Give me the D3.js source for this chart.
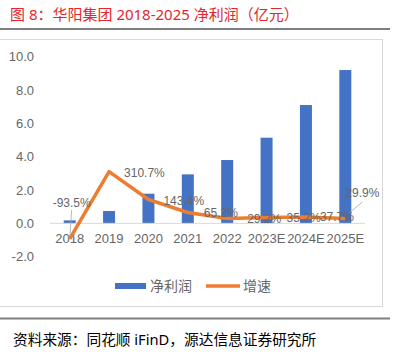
<!DOCTYPE html>
<html><head><meta charset="utf-8">
<script src="https://cdn.jsdelivr.net/npm/d3@7/dist/d3.min.js"></script>
<style>body{margin:0;background:#fff}svg{display:block}text{font-family:"Liberation Sans","Noto Sans CJK SC",sans-serif}</style>
</head><body>
<script>
const categories = ["2018","2019","2020","2021","2022","2023E","2024E","2025E"];
const netProfit = [0.18,0.74,1.78,2.94,3.80,5.14,7.10,9.20];
const growth = [-93.5,310.7,143.4,65.2,29.2,35.2,37.7,29.9];
const growthLabels = ["-93.5%","310.7%","143.4%","65.2%","29.2%","35.2%","37.7%","29.9%"];
const yTicks = [-2,0,2,4,6,8,10];

const W=394,H=352;
const svg=d3.select("body").append("svg").attr("width",W).attr("height",H);

// title
svg.append("text").attr("x",10).attr("y",20).attr("fill","#e4262c")
  .style("font-family",'"Noto Sans","Noto Sans CJK SC",sans-serif').style("font-size","15px")
  .text("图 8：华阳集团 2018-2025 净利润（亿元）");
svg.append("rect").attr("x",0).attr("y",28).attr("width",390).attr("height",2).attr("fill","#7f7f7f");
// chart border
svg.append("rect").attr("x",-1).attr("y",39.5).attr("width",383.5).attr("height",267).attr("fill","none").attr("stroke","#d9d9d9");
svg.append("rect").attr("x",0).attr("y",317.5).attr("width",390).attr("height",2).attr("fill","#7f7f7f");
svg.append("text").attr("x",13).attr("y",345).attr("fill","#000")
  .style("font-family",'"Noto Sans","Noto Sans CJK SC",sans-serif').style("font-size","14.7px")
  .text("资料来源：同花顺 iFinD，源达信息证券研究所");

const x=d3.scaleBand().domain(categories).range([50,365]);
const y=d3.scaleLinear().domain([-2,10]).range([256.7,56.7]);

// y labels
svg.append("g").selectAll("text").data(yTicks).join("text")
  .attr("x",34).attr("y",d=>y(d)).attr("dy","0.35em").attr("text-anchor","end")
  .attr("fill","#666").style("font-size","13px").text(d=>d.toFixed(1));

// bars
const bw=12;
svg.append("g").selectAll("rect").data(netProfit).join("rect")
  .attr("x",(d,i)=>x(categories[i])+x.bandwidth()/2-bw/2).attr("width",bw)
  .attr("y",d=>y(d)).attr("height",d=>y(0)-y(d)).attr("fill","#4472c4");

// zero line
svg.append("line").attr("x1",50).attr("x2",365).attr("y1",y(0)).attr("y2",y(0)).attr("stroke","#d9d9d9").attr("stroke-width",1);

// category labels
svg.append("g").selectAll("text").data(categories).join("text")
  .attr("x",d=>x(d)+x.bandwidth()/2).attr("y",238.5).attr("dy","0.35em").attr("text-anchor","middle")
  .attr("fill","#666").style("font-size","13px").text(d=>d);

// leader lines
const cx=i=>x(categories[i])+x.bandwidth()/2;
svg.append("line").attr("x1",cx(0)+2).attr("y1",210).attr("x2",cx(0)).attr("y2",y(growth[0]/100)).attr("stroke","#a6a6a6").attr("stroke-width",0.8);
svg.append("line").attr("x1",cx(7)+4).attr("y1",213).attr("x2",cx(7)+17).attr("y2",202).attr("stroke","#a6a6a6").attr("stroke-width",0.8);

// growth line
const line=d3.line().x((d,i)=>cx(i)).y(d=>y(d/100));
svg.append("path").datum(growth).attr("d",line).attr("fill","none").attr("stroke","#ed7d31").attr("stroke-width",3.5).attr("stroke-linejoin","round");

// data labels
const off=[[-17,-36],[15,1],[15,1],[16,0.5],[20,0.5],[20,0],[14,0],[0,-26]];
svg.append("g").selectAll("text").data(growth).join("text")
  .attr("x",(d,i)=>cx(i)+off[i][0]).attr("y",(d,i)=>y(d/100)+off[i][1]).attr("dy","0.35em")
  .attr("fill","#666").style("font-size","12px").text((d,i)=>growthLabels[i]);

// legend
svg.append("rect").attr("x",115).attr("y",283).attr("width",31).attr("height",6).attr("fill","#4472c4");
svg.append("text").attr("x",150).attr("y",286).attr("dy","0.35em").attr("fill","#666")
  .style("font-family",'"Noto Sans CJK SC",sans-serif').style("font-size","14px").text("净利润");
svg.append("line").attr("x1",206).attr("x2",240).attr("y1",286).attr("y2",286).attr("stroke","#ed7d31").attr("stroke-width",3.5);
svg.append("text").attr("x",243).attr("y",286).attr("dy","0.35em").attr("fill","#666")
  .style("font-family",'"Noto Sans CJK SC",sans-serif').style("font-size","14px").text("增速");
</script>
</body></html>
